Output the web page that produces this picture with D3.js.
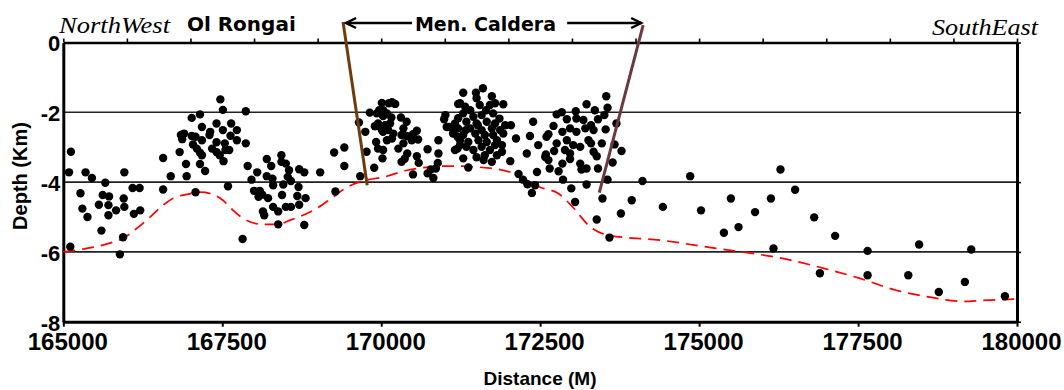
<!DOCTYPE html>
<html>
<head>
<meta charset="utf-8">
<script src="https://d3js.org/d3.v7.min.js"></script>
<style>
  body { margin: 0; background: #fff; }
</style>
</head>
<body>
<div id="chart"></div>
<script>
// earthquake hypocentres [distance (m), depth (km)], grouped by cluster west -> east
const olRongaiWest = [[165120,-3.13],[165090,-3.72],[165350,-3.72],[165450,-3.88],[165660,-4.02],[165960,-3.72],[165270,-4.32],[165300,-4.76],[165380,-5.00],[165620,-4.37],[165720,-4.41],[165560,-4.65],[165710,-4.66],[165710,-4.95],[165830,-4.81],[165950,-4.47],[165960,-4.71],[166090,-4.17],[166200,-4.17],[166210,-4.81],[166110,-4.91],[165600,-5.39],[165940,-5.58],[165110,-5.85],[165890,-6.07]];
const olRongaiEast = [[166570,-3.31],[166570,-4.21],[166690,-3.83],[166830,-3.14],[166930,-3.48],[166940,-3.83],[167080,-4.29],[166850,-2.65],[166900,-2.61],[166870,-2.77],[167020,-2.16],[167150,-2.06],[167180,-2.42],[167020,-2.68],[167080,-2.70],[167180,-2.80],[167040,-2.92],[167100,-3.04],[167150,-3.16],[167180,-3.23],[167150,-3.48],[167230,-3.68],[167310,-2.56],[167300,-2.65],[167410,-2.86],[167340,-3.04],[167410,-3.14],[167460,-3.23],[167520,-3.40],[167470,-1.63],[167510,-1.93],[167410,-2.32],[167510,-2.51],[167640,-2.32],[167630,-2.67],[167540,-2.89],[167550,-3.08],[167610,-3.08],[167730,-2.51],[167730,-2.80],[167590,-4.12],[167870,-1.97],[167870,-2.89]];
const gapCluster = [[167900,-3.54],[168200,-3.34],[168270,-3.54],[168430,-3.23],[168430,-3.42],[168500,-3.47],[168550,-3.66],[168710,-3.63],[168790,-3.72],[169040,-3.72],[168050,-3.72],[167960,-3.93],[168200,-3.83],[168290,-3.90],[168300,-4.09],[168530,-3.85],[168460,-4.07],[168580,-3.97],[168000,-4.25],[168090,-4.25],[168130,-4.36],[168070,-4.42],[168220,-4.46],[168440,-4.37],[168700,-4.14],[168680,-4.40],[168810,-4.46],[168300,-4.71],[168380,-4.84],[168140,-4.84],[168160,-4.95],[168500,-4.71],[168580,-4.71],[168710,-4.65],[168380,-5.21],[168790,-5.23],[167820,-5.63]];
const calderaWest = [[169260,-3.15],[169420,-3.01],[169420,-3.54],[169280,-4.27],[169650,-2.29],[169750,-2.56],[169770,-3.13],[169670,-3.83],[169890,-3.59],[169820,-2.01],[169930,-2.03],[170010,-1.73],[169970,-1.94],[170030,-2.11],[169930,-2.39],[170010,-2.51],[170060,-2.37],[169920,-2.85],[169950,-3.04],[170030,-3.08],[170090,-2.80],[170020,-3.32],[170120,-1.74],[170170,-1.71],[170220,-1.76],[170030,-1.94],[170090,-2.03],[170160,-2.15],[170140,-2.32],[169950,-2.32],[169900,-2.40],[170030,-2.56],[170110,-2.51],[170310,-2.15],[170400,-2.27],[170350,-2.46],[170190,-2.61],[170170,-2.75],[170320,-2.65],[170400,-2.68],[170500,-2.63],[170560,-2.53],[170580,-2.78],[170480,-2.80],[170350,-2.89],[170270,-3.04],[170410,-3.18],[170370,-3.33],[170320,-3.42],[170560,-3.26],[170590,-3.45],[170730,-3.06],[170900,-2.80],[170900,-3.18],[170890,-3.45],[170860,-3.61],[170780,-3.64],[170730,-3.75],[170820,-3.88],[170500,-3.78],[171010,-2.08],[170990,-2.20],[171070,-2.42],[171150,-2.51],[171200,-2.70],[171200,-3.04],[171210,-1.76]];
const calderaCentre = [[171290,-1.44],[171490,-1.44],[171600,-1.31],[171500,-1.60],[171740,-1.54],[171790,-1.74],[171920,-1.77],[171240,-1.74],[171320,-1.84],[171550,-1.79],[171650,-1.94],[171290,-2.03],[171450,-2.13],[171580,-2.08],[171760,-2.03],[171860,-2.18],[171160,-2.32],[171340,-2.27],[171500,-2.32],[171660,-2.27],[171790,-2.32],[172040,-2.37],[171030,-2.42],[171210,-2.46],[171400,-2.46],[171580,-2.51],[171740,-2.46],[171870,-2.51],[171130,-2.61],[171290,-2.65],[171480,-2.61],[171630,-2.65],[171760,-2.65],[171920,-2.61],[171240,-2.80],[171370,-2.85],[171530,-2.80],[171660,-2.85],[171820,-2.80],[172120,-2.75],[172390,-2.27],[172340,-2.68],[171160,-3.08],[171340,-2.99],[171450,-3.08],[171580,-2.99],[171710,-3.08],[171900,-2.94],[171900,-3.13],[171290,-3.32],[171500,-3.29],[171610,-3.37],[171740,-3.42],[171820,-3.23],[172030,-3.40],[171370,-3.58],[172470,-2.94],[172290,-3.18],[172580,-3.28],[172450,-3.71],[172160,-3.77],[172230,-3.93],[172300,-4.06],[172370,-4.31],[172420,-4.09],[171400,-1.94],[171210,-2.17],[171710,-1.79],[171950,-2.37],[171630,-3.23],[171790,-2.94],[171240,-2.94],[171520,-2.37],[171330,-2.51]];
const calderaEast = [[172760,-2.06],[172840,-2.00],[172710,-2.39],[172920,-2.20],[173060,-1.97],[173070,-2.18],[173230,-1.77],[173360,-1.94],[173540,-1.54],[173560,-1.87],[173510,-2.08],[173410,-2.20],[173180,-2.22],[173300,-2.37],[172630,-2.63],[172600,-2.70],[172850,-2.56],[172970,-2.46],[173070,-2.56],[173210,-2.46],[173340,-2.51],[173530,-2.49],[173700,-2.32],[172760,-2.89],[172920,-2.80],[173020,-2.94],[173130,-2.99],[173260,-2.80],[173300,-2.89],[173470,-2.89],[173670,-2.92],[172720,-3.11],[172890,-3.08],[172970,-3.18],[173340,-3.13],[173390,-3.26],[173780,-3.11],[172590,-3.21],[172630,-3.37],[172850,-3.47],[172970,-3.34],[173130,-3.47],[173230,-3.61],[172650,-3.61],[172790,-3.69],[173150,-3.64],[173410,-3.61],[173640,-3.44],[172860,-3.93],[173230,-4.07],[173560,-3.93],[172990,-4.18],[173050,-4.57],[173480,-4.47],[173390,-5.07],[173590,-5.59],[173770,-4.90],[173940,-4.52],[174110,-3.97]];
const southEast = [[174430,-4.71],[174860,-3.83],[175030,-4.81],[175390,-5.45],[175620,-5.29],[175500,-4.47],[175880,-4.86],[176130,-4.47],[176280,-3.64],[176510,-4.22],[176170,-5.90],[176810,-5.01],[177140,-5.54],[176900,-6.61],[177650,-5.97],[177650,-6.67],[178460,-5.79],[178290,-6.67],[178770,-7.15],[179180,-6.86],[179280,-5.93],[179810,-7.27]];

// red dashed boundary below the seismicity
const boundaryDist  = [165000,165370,165730,165940,166160,166360,166570,166730,166950,167150,167350,167510,167670,167830,168140,168360,168570,168770,168990,169240,169460,169750,170030,170410,171080,171710,172070,172500,172780,173000,173280,173570,174420,175270,175830,176290,176960,177530,178100,178550,179170,179450,180000];
const boundaryDepth = [-6.00,-5.90,-5.75,-5.61,-5.32,-5.01,-4.66,-4.46,-4.35,-4.29,-4.35,-4.52,-4.81,-5.04,-5.21,-5.21,-5.09,-4.95,-4.75,-4.43,-4.15,-3.95,-3.86,-3.66,-3.54,-3.60,-3.74,-4.15,-4.32,-4.69,-5.27,-5.52,-5.67,-5.90,-6.04,-6.18,-6.47,-6.76,-7.10,-7.27,-7.42,-7.39,-7.35];

// caldera faults [top, bottom]
const faultWest = [[169400, 0.59], [169780, -4.09]];
const faultEast = [[174120, 0.50], [173430, -4.30]];

const xTicks = d3.range(165000, 180001, 2500);
const xMinor = d3.range(165000, 180001, 1000);
const yTicks = [0, -2, -4, -6, -8];
const gridDepths = [-2, -4, -6];

const width = 1064, height = 390;
const sans = '"Liberation Sans", Arial, sans-serif';
const x = d3.scaleLinear().domain([165000, 180000]).range([63.3, 1017]);
const y = d3.scaleLinear().domain([-8, 0]).range([321.7, 42.5]);

const svg = d3.select('#chart').append('svg')
  .attr('width', width)
  .attr('height', height);

// grid lines
svg.append('g').selectAll('line').data(gridDepths).enter().append('line')
  .attr('x1', x(165000)).attr('x2', x(180000))
  .attr('y1', d => y(d)).attr('y2', d => y(d))
  .attr('stroke', '#222').attr('stroke-width', 1.6);

// top axis (minor ticks only)
svg.append('g')
  .attr('transform', 'translate(0,' + y(0) + ')')
  .call(d3.axisTop(x).tickValues(xMinor).tickSize(4).tickSizeOuter(0).tickFormat(''))
  .call(g => g.select('.domain').attr('stroke-width', 2.6))
  .call(g => g.selectAll('.tick line').attr('stroke-width', 1.6));

// right axis
svg.append('g')
  .attr('transform', 'translate(' + x(180000) + ',0)')
  .call(d3.axisRight(y).tickValues(yTicks).tickSize(4).tickSizeOuter(0).tickFormat(''))
  .call(g => g.select('.domain').attr('stroke-width', 3))
  .call(g => g.selectAll('.tick line').attr('stroke-width', 1.6));

// bottom axis
svg.append('g')
  .attr('transform', 'translate(0,' + y(-8) + ')')
  .call(d3.axisBottom(x).tickValues(xTicks).tickSize(5).tickSizeOuter(0).tickPadding(6).tickFormat(d => String(d)))
  .call(g => g.select('.domain').attr('stroke-width', 3))
  .call(g => g.selectAll('.tick line').attr('stroke-width', 2))
  .call(g => g.selectAll('.tick text')
    .attr('font-family', sans).attr('font-weight', 'bold').attr('font-size', 24)
    .attr('fill', '#000').attr('dx', 4));

// left axis, plain hyphen for the minus sign like the original
svg.append('g')
  .attr('transform', 'translate(' + x(165000) + ',0)')
  .call(d3.axisLeft(y).tickValues(yTicks).tickSize(0).tickSizeOuter(0).tickPadding(3).tickFormat(d => String(d)))
  .call(g => g.select('.domain').attr('stroke-width', 3))
  .call(g => g.selectAll('.tick text')
    .attr('font-family', sans).attr('font-weight', 'bold').attr('font-size', 22)
    .attr('fill', '#000').attr('dy', '0.38em'));

// dashed boundary
const boundary = boundaryDist.map((d, i) => [d, boundaryDepth[i]]);
svg.append('path')
  .datum(boundary)
  .attr('fill', 'none')
  .attr('stroke', '#ff0000')
  .attr('stroke-width', 1.7)
  .attr('stroke-dasharray', '12,7')
  .attr('d', d3.line().x(d => x(d[0])).y(d => y(d[1])).curve(d3.curveMonotoneX));

// earthquakes
const quakes = [].concat(olRongaiWest, olRongaiEast, gapCluster, calderaWest, calderaCentre, calderaEast, southEast);
svg.append('g').selectAll('circle').data(quakes).enter().append('circle')
  .attr('cx', d => x(d[0]))
  .attr('cy', d => y(d[1]))
  .attr('r', 4.2)
  .attr('fill', '#000');

// faults
[[faultWest, '#6e3c0c'], [faultEast, '#6b3a3a']].forEach(function (f) {
  svg.append('line')
    .attr('x1', x(f[0][0][0])).attr('y1', y(f[0][0][1]))
    .attr('x2', x(f[0][1][0])).attr('y2', y(f[0][1][1]))
    .attr('stroke', f[1]).attr('stroke-width', 3);
});

// caldera arrow
const arrowY = 23;
const ax1 = x(faultWest[0][0]) + 3, ax2 = x(faultEast[0][0]) - 2;
const arrow = svg.append('g').attr('stroke', '#000').attr('stroke-width', 2.5).attr('fill', 'none');
arrow.append('line').attr('x1', ax1).attr('x2', ax1 + 66).attr('y1', arrowY).attr('y2', arrowY);
arrow.append('line').attr('x1', ax2 - 74).attr('x2', ax2).attr('y1', arrowY).attr('y2', arrowY);
arrow.append('path').attr('d', 'M' + (ax1 + 10) + ',' + (arrowY - 5) + 'L' + ax1 + ',' + arrowY + 'L' + (ax1 + 10) + ',' + (arrowY + 5));
arrow.append('path').attr('d', 'M' + (ax2 - 10) + ',' + (arrowY - 5) + 'L' + ax2 + ',' + arrowY + 'L' + (ax2 - 10) + ',' + (arrowY + 5));

const bold = '"DejaVu Sans", Verdana, sans-serif';
svg.append('text')
  .attr('x', x(171640)).attr('y', 31)
  .attr('text-anchor', 'middle')
  .attr('font-family', bold).attr('font-weight', 'bold').attr('font-size', 19)
  .text('Men. Caldera');

svg.append('text')
  .attr('x', x(167800)).attr('y', 31)
  .attr('text-anchor', 'middle')
  .attr('font-family', bold).attr('font-weight', 'bold').attr('font-size', 20)
  .text('Ol Rongai');

// direction labels
const script = '"Liberation Serif", "DejaVu Serif", serif';
svg.append('text')
  .attr('x', 59).attr('y', 33)
  .attr('font-family', script).attr('font-style', 'italic').attr('font-size', 23)
  .attr('textLength', 111).attr('lengthAdjust', 'spacingAndGlyphs')
  .text('NorthWest');
svg.append('text')
  .attr('x', 932).attr('y', 35)
  .attr('font-family', script).attr('font-style', 'italic').attr('font-size', 23)
  .attr('textLength', 106).attr('lengthAdjust', 'spacingAndGlyphs')
  .text('SouthEast');

// axis titles
svg.append('text')
  .attr('transform', 'translate(27,176) rotate(-90)')
  .attr('text-anchor', 'middle')
  .attr('font-family', sans).attr('font-weight', 'bold').attr('font-size', 20)
  .text('Depth (Km)');

svg.append('text')
  .attr('x', 540).attr('y', 385)
  .attr('text-anchor', 'middle')
  .attr('font-family', sans).attr('font-weight', 'bold').attr('font-size', 19)
  .text('Distance (M)');
</script>
</body>
</html>
